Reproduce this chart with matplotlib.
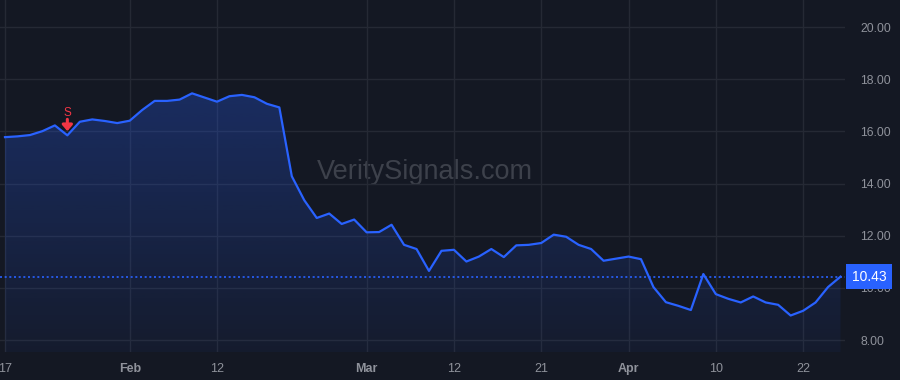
import matplotlib.pyplot as plt
import matplotlib.transforms as mtransforms
import numpy as np
from matplotlib.patches import Polygon
from matplotlib.ticker import FormatStrFormatter

# daily closes, one per bar
prices = [15.78, 15.81, 15.86, 16.01, 16.23, 15.85, 16.37, 16.46, 16.40, 16.32,
          16.41, 16.82, 17.17, 17.17, 17.22, 17.46, 17.30, 17.14, 17.35, 17.40,
          17.31, 17.06, 16.92, 14.28, 13.36, 12.68, 12.85, 12.45, 12.62, 12.13,
          12.14, 12.42, 11.65, 11.49, 10.65, 11.42, 11.46, 11.01, 11.20, 11.49,
          11.18, 11.63, 11.65, 11.72, 12.04, 11.96, 11.65, 11.49, 11.04, 11.12,
          11.20, 11.10, 10.03, 9.45, 9.31, 9.15, 10.53, 9.76, 9.58, 9.44,
          9.67, 9.44, 9.35, 8.94, 9.12, 9.44, 10.03, 10.43]
tick_idx = [0, 10, 17, 29, 36, 43, 50, 57, 64]
tick_labels = ['17', 'Feb', '12', 'Mar', '12', '21', 'Apr', '10', '22']
month_labels = ['Feb', 'Mar', 'Apr']
y_ticks = [8, 10, 12, 14, 16, 18, 20]
signal_idx = 5
signal_label = 'S'
last_price = prices[-1]

bg = '#141823'
grid_c = '#252934'
line_c = '#2962ff'
text_c = '#8f929b'
red = '#f23645'

plt.rcParams['font.family'] = ['Liberation Sans', 'DejaVu Sans']

fig = plt.figure(figsize=(9, 3.8), dpi=100, facecolor=bg)
ax = fig.add_axes([0, 28 / 380, 845 / 900, 352 / 380])
ax.set_facecolor(bg)

x = np.arange(len(prices))
ax.set_xlim(-0.4, len(prices) - 1 + 0.36)
ax.set_ylim(7.54, 21.04)
ymin, ymax = ax.get_ylim()

# gradient area under the line
rgba = np.zeros((256, 1, 4))
rgba[:, 0, 0] = 41 / 255
rgba[:, 0, 1] = 98 / 255
rgba[:, 0, 2] = 1.0
rgba[:, 0, 3] = np.linspace(0.05, 0.28, 256)
im = ax.imshow(rgba, extent=[x[0], x[-1], ymin, max(prices)], aspect='auto',
               origin='lower', zorder=1)
verts = list(zip(x, prices)) + [(x[-1], ymin), (x[0], ymin)]
poly = Polygon(verts, closed=True, facecolor='none', edgecolor='none')
ax.add_patch(poly)
im.set_clip_path(poly)

ax.plot(x, prices, color=line_c, lw=1.6, zorder=3, solid_joinstyle='round')
ax.axhline(last_price, color=line_c, lw=1.2, linestyle=(0, (1.2, 1.6)), zorder=2)

# signal marker
ax.annotate('', xy=(signal_idx, prices[signal_idx]), xytext=(0, 16),
            textcoords='offset pixels',
            arrowprops=dict(arrowstyle='-|>,head_width=0.3,head_length=0.35',
                            color=red, lw=2.2, shrinkA=0, shrinkB=3), zorder=4)
ax.annotate(signal_label, xy=(signal_idx, prices[signal_idx]), xytext=(0, 22),
            textcoords='offset pixels', ha='center', va='center', color=red,
            fontsize=8.5, zorder=4)

# watermark
ax.text(0.503, 0.51, 'VeritySignals.com', transform=ax.transAxes, ha='center',
        va='center', fontsize=19.5, color='#3d414b', zorder=0.5)

# axes styling
for s in ax.spines.values():
    s.set_visible(False)
ax.set_xticks(tick_idx)
ax.set_xticklabels(tick_labels)
for lbl in ax.get_xticklabels():
    if lbl.get_text() in month_labels:
        lbl.set_fontweight('bold')
ax.set_yticks(y_ticks)
ax.yaxis.tick_right()
ax.yaxis.set_major_formatter(FormatStrFormatter('%.2f'))
ax.tick_params(axis='x', length=0, pad=8, labelsize=9, labelcolor=text_c)
ax.tick_params(axis='y', length=0, pad=11, labelsize=8.7, labelcolor=text_c)
ax.grid(True, color=grid_c, lw=1, zorder=0)
ax.set_axisbelow(True)

# last price label on the scale
trans = mtransforms.blended_transform_factory(ax.transAxes, ax.transData)
ax.text(1.008, last_price, f'{last_price:.2f}', transform=trans, ha='left',
        va='center', color='white', fontsize=10, clip_on=False, zorder=5,
        bbox=dict(boxstyle='square,pad=0.42', fc=line_c, ec='none'))

fig.savefig('out.png', dpi=100, facecolor=bg)
